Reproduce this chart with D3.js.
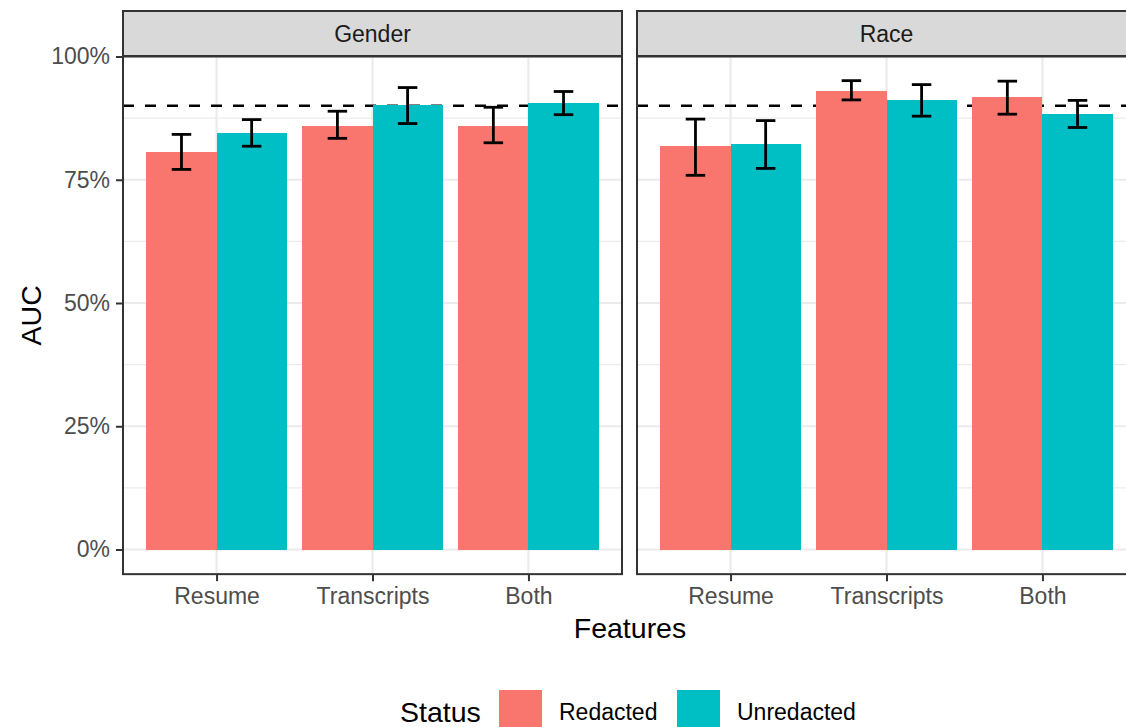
<!DOCTYPE html>
<html>
<head>
<meta charset="utf-8">
<script src="https://cdn.jsdelivr.net/npm/d3@7"></script>
<style>
  body { margin: 0; background: #fff; }
  svg { display: block; font-family: "Liberation Sans", Arial, sans-serif; }
</style>
</head>
<body>
<div id="chart"></div>
<script>
// values (AUC with CI)
var features = ["Resume", "Transcripts", "Both"];
var statuses = ["Redacted", "Unredacted"];
var facets = ["Gender", "Race"];

var genderRedacted     = [0.806, 0.860, 0.860];
var genderRedactedLo   = [0.771, 0.834, 0.825];
var genderRedactedHi   = [0.842, 0.889, 0.897];
var genderUnredacted   = [0.844, 0.901, 0.905];
var genderUnredactedLo = [0.818, 0.864, 0.882];
var genderUnredactedHi = [0.872, 0.937, 0.929];

var raceRedacted       = [0.818, 0.931, 0.917];
var raceRedactedLo     = [0.759, 0.912, 0.883];
var raceRedactedHi     = [0.873, 0.951, 0.950];
var raceUnredacted     = [0.822, 0.911, 0.883];
var raceUnredactedLo   = [0.773, 0.879, 0.856];
var raceUnredactedHi   = [0.870, 0.943, 0.911];

var yTicks = [0, 0.25, 0.5, 0.75, 1];
var yMinor = [0.125, 0.375, 0.625, 0.875];
var threshold = 0.9;

var colors = ["#F8766D", "#00BFC4"];

// build rows for each facet
function makeRows(facet, red, redLo, redHi, unr, unrLo, unrHi) {
	var rows = [];
	features.forEach(function(f, i) {
		rows.push({ facet: facet, feature: f, status: "Redacted", auc: red[i], lo: redLo[i], hi: redHi[i] });
		rows.push({ facet: facet, feature: f, status: "Unredacted", auc: unr[i], lo: unrLo[i], hi: unrHi[i] });
	});
	return rows;
}
var data = {
	Gender: makeRows("Gender", genderRedacted, genderRedactedLo, genderRedactedHi, genderUnredacted, genderUnredactedLo, genderUnredactedHi),
	Race: makeRows("Race", raceRedacted, raceRedactedLo, raceRedactedHi, raceUnredacted, raceUnredactedLo, raceUnredactedHi)
};

var width = 1126, height = 727;
var panelW = 499;
var panelLeft = [123, 637];
var stripTop = 11, stripBottom = 56;

var svg = d3.select("#chart").append("svg")
	.attr("width", width)
	.attr("height", height);

var y = d3.scaleLinear().domain([0, 1]).range([549.5, 56.5]);
var panelTop = y(1);
var panelBottom = y(-0.05);

var color = d3.scaleOrdinal().domain(statuses).range(colors);

facets.forEach(function(facet, p) {
	var left = panelLeft[p];
	var x = d3.scalePoint().domain(features).range([left, left + panelW]).padding(0.6);
	var step = x.step();
	var dodge = d3.scaleBand().domain(statuses).range([-0.45 * step, 0.45 * step]);

	var g = svg.append("g").attr("class", "panel");

	// grid
	g.selectAll(".minor").data(yMinor).enter().append("line")
		.attr("x1", left).attr("x2", left + panelW)
		.attr("y1", function(d) { return y(d); }).attr("y2", function(d) { return y(d); })
		.style("stroke", "#ebebeb").style("stroke-width", "1.1px");
	g.selectAll(".major").data(yTicks).enter().append("line")
		.attr("x1", left).attr("x2", left + panelW)
		.attr("y1", function(d) { return y(d); }).attr("y2", function(d) { return y(d); })
		.style("stroke", "#ebebeb").style("stroke-width", "2.2px");
	g.selectAll(".vgrid").data(features).enter().append("line")
		.attr("x1", function(d) { return x(d); }).attr("x2", function(d) { return x(d); })
		.attr("y1", panelTop).attr("y2", panelBottom)
		.style("stroke", "#ebebeb").style("stroke-width", "2.2px");

	// threshold line sits under the bars
	g.append("line")
		.attr("x1", left).attr("x2", left + panelW)
		.attr("y1", y(threshold)).attr("y2", y(threshold))
		.style("stroke", "#000").style("stroke-width", "2.5px")
		.style("stroke-dasharray", "11,11");

	g.selectAll(".bar").data(data[facet]).enter().append("rect")
		.attr("x", function(d) { return x(d.feature) + dodge(d.status); })
		.attr("width", dodge.bandwidth())
		.attr("y", function(d) { return y(d.auc); })
		.attr("height", function(d) { return y(0) - y(d.auc); })
		.attr("shape-rendering", "crispEdges")
		.style("fill", function(d) { return color(d.status); });

	// error bars
	var capW = 0.125 * step;
	var eb = g.selectAll(".err").data(data[facet]).enter().append("g")
		.attr("transform", function(d) { return "translate(" + (x(d.feature) + dodge(d.status) + dodge.bandwidth() / 2) + ",0)"; })
		.style("stroke", "#000").style("stroke-width", "2.8px");
	eb.append("line").attr("x1", 0).attr("x2", 0)
		.attr("y1", function(d) { return y(d.hi); }).attr("y2", function(d) { return y(d.lo); });
	eb.append("line").attr("x1", -capW / 2).attr("x2", capW / 2)
		.attr("y1", function(d) { return y(d.hi); }).attr("y2", function(d) { return y(d.hi); });
	eb.append("line").attr("x1", -capW / 2).attr("x2", capW / 2)
		.attr("y1", function(d) { return y(d.lo); }).attr("y2", function(d) { return y(d.lo); });

	// border
	g.append("rect")
		.attr("x", left).attr("y", panelTop)
		.attr("width", panelW).attr("height", panelBottom - panelTop)
		.style("fill", "none").style("stroke", "#333").style("stroke-width", "2px");

	// strip
	g.append("rect")
		.attr("x", left).attr("y", stripTop)
		.attr("width", panelW).attr("height", stripBottom - stripTop)
		.style("fill", "#d9d9d9").style("stroke", "#333").style("stroke-width", "2px");
	g.append("text")
		.attr("x", left + panelW / 2).attr("y", (stripTop + stripBottom) / 2 + 8)
		.attr("text-anchor", "middle")
		.style("font-size", "23px").style("fill", "#1a1a1a")
		.text(facet);

	// x axis
	var xAxis = g.append("g")
		.attr("transform", "translate(0," + panelBottom + ")")
		.call(d3.axisBottom(x).tickSize(7).tickPadding(7));
	xAxis.select(".domain").remove();
	xAxis.selectAll("line").style("stroke", "#333").style("stroke-width", "2px");
	xAxis.selectAll("text").style("font-size", "23px").style("fill", "#4d4d4d")
		.style("font-family", "Liberation Sans, Arial, sans-serif");

	// y axis only on first panel
	if (p == 0) {
		var yAxis = g.append("g")
			.attr("transform", "translate(" + left + ",0)")
			.call(d3.axisLeft(y).tickValues(yTicks).tickFormat(d3.format(".0%")).tickSize(7).tickPadding(6));
		yAxis.select(".domain").remove();
		yAxis.selectAll("line").style("stroke", "#333").style("stroke-width", "2px");
		yAxis.selectAll("text").style("font-size", "23px").style("fill", "#4d4d4d")
			.style("font-family", "Liberation Sans, Arial, sans-serif");
	}
});

// axis titles
svg.append("text")
	.attr("x", 630).attr("y", 638)
	.attr("text-anchor", "middle")
	.style("font-size", "28.5px").style("fill", "#000")
	.text("Features");

svg.append("text")
	.attr("transform", "translate(41," + ((panelTop + panelBottom) / 2) + ") rotate(-90)")
	.attr("text-anchor", "middle")
	.style("font-size", "28.5px").style("fill", "#000")
	.text("AUC");

// legend
var legend = svg.append("g");
legend.append("text")
	.attr("x", 400).attr("y", 722)
	.style("font-size", "28.5px").style("fill", "#000")
	.text("Status");
var keyX = [499, 677];
statuses.forEach(function(s, i) {
	legend.append("rect")
		.attr("x", keyX[i]).attr("y", 690)
		.attr("width", 43).attr("height", 43)
		.style("fill", color(s));
	legend.append("text")
		.attr("x", keyX[i] + 60).attr("y", 720)
		.style("font-size", "23px").style("fill", "#000")
		.text(s);
});
</script>
</body>
</html>
